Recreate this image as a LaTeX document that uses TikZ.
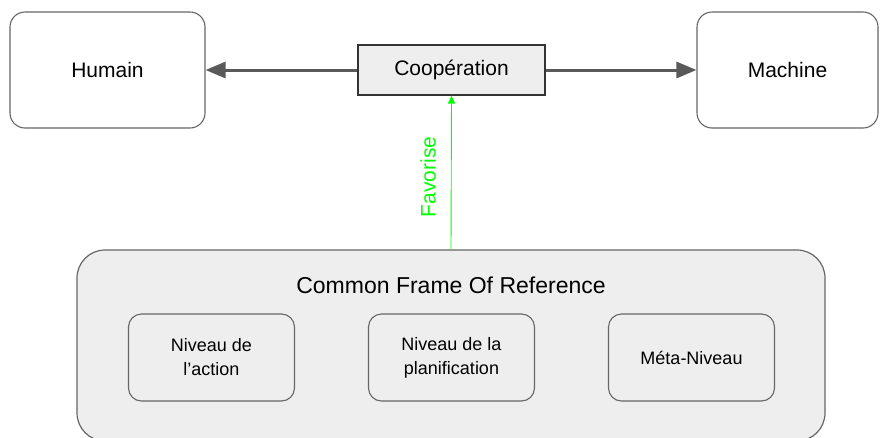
\documentclass[tikz,border=0pt]{standalone}
\usepackage{fontspec}
\setmainfont{Liberation Sans}
\usetikzlibrary{arrows.meta}
\definecolor{boxgray}{HTML}{EEEEEE}
\definecolor{linegray}{HTML}{666666}
\definecolor{arrowgray}{HTML}{595959}
\definecolor{favgreen}{HTML}{00FF00}
\begin{document}
\begin{tikzpicture}[
      x=1pt, y=-1pt,
      actor/.style={draw=linegray, line width=1.1pt, rounded corners=15pt,
        minimum width=195pt, minimum height=116pt, font=\fontsize{21}{25}\selectfont},
      coop/.style={draw=black!80, fill=boxgray, line width=1.2pt,
        minimum width=187pt, minimum height=50pt, font=\fontsize{21}{25}\selectfont},
      frame/.style={draw=linegray, fill=boxgray, line width=1.2pt, rounded corners=28pt,
        minimum width=748pt, minimum height=191pt},
      level/.style={draw=linegray, line width=1.1pt, rounded corners=13pt,
        minimum width=166pt, minimum height=87pt, align=center,
        font=\fontsize{18}{24}\selectfont},
      link/.style={line width=3pt, arrowgray, -{Triangle[length=20pt,width=16pt]}},
    ]
    \useasboundingbox (0,0) rectangle (880,437);
    \node[actor] (humain) at (107.5,70) {Humain};
    \node[actor, minimum width=181pt] (machine) at (787.5,70) {Machine};
    \node[coop] (coop) at (451.5,70) {Coopération};
    \draw[link] (coop) -- (humain);
    \draw[link] (coop) -- (machine);

    \node[frame] (cfr) at (451,345.5) {};
    \node[font=\fontsize{23}{28}\selectfont] (cfrtitle) at (451,285) {Common Frame Of Reference};
    \node[level] (action) at (211.5,357.5) {Niveau de\\l’action};
    \node[level] (planif) at (451.5,357.5) {Niveau de la\\planification};
    \node[level] (meta) at (691.5,357.5) {Méta-Niveau};

    \draw[favgreen, line width=0.9pt, -{Triangle[length=8pt,width=7pt]}] (cfr.north) -- (coop.south);
    \node[favgreen, rotate=90, font=\fontsize{21}{25}\selectfont] (fav) at (428,177) {Favorise};
\end{tikzpicture}
\end{document}
